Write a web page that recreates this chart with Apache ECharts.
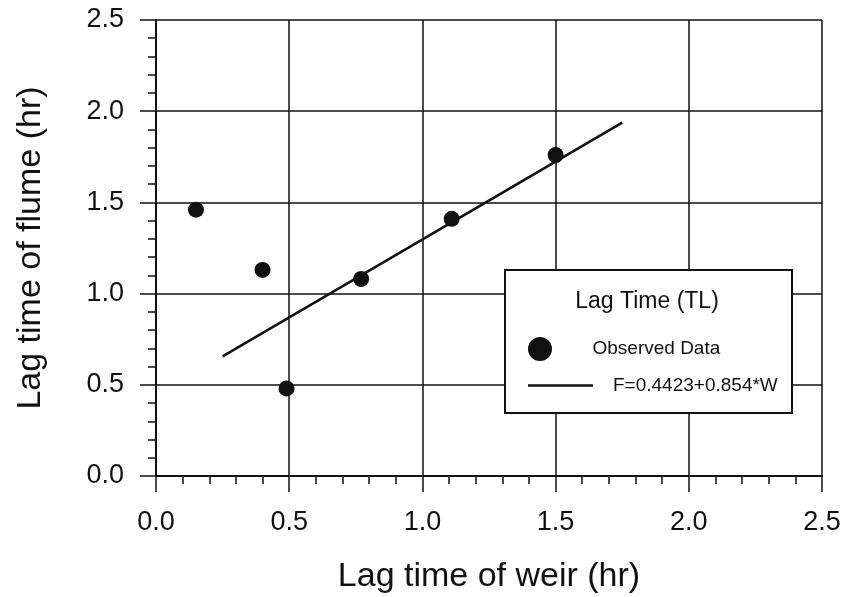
<!DOCTYPE html>
<html>
<head>
<meta charset="utf-8">
<script src="https://cdn.jsdelivr.net/npm/echarts@6/dist/echarts.min.js"></script>
<style>html,body{margin:0;padding:0;background:#fff;}#c{width:846px;height:597px;}</style>
</head>
<body>
<div id="c"></div>
<script>
// Observed data (lag time of weir, lag time of flume), hr
const weirLag = [0.15, 0.40, 0.49, 0.77, 1.11, 1.50];
const flumeLag = [1.46, 1.13, 0.48, 1.08, 1.41, 1.76];
// Fitted line endpoints F = 0.4423 + 0.854*W
const fitWeir = [0.25, 1.75];
const fitFlume = [0.656, 1.937];
const xTicks = [0.0, 0.5, 1.0, 1.5, 2.0, 2.5];
const yTicks = [0.0, 0.5, 1.0, 1.5, 2.0, 2.5];
const legendTitle = 'Lag Time (TL)';
const seriesNames = ['Observed Data', 'F=0.4423+0.854*W'];

const font = 'Liberation Sans, Arial, sans-serif';
const ink = '#111';

const chart = echarts.init(document.getElementById('c'));
const axisCommon = {
  type: 'value', min: xTicks[0], max: xTicks[xTicks.length - 1], interval: 0.5,
  axisLine: {show: true, lineStyle: {color: ink, width: 2}},
  axisTick: {show: true, inside: false, length: 16, lineStyle: {color: ink, width: 1.5}},
  minorTick: {show: true, splitNumber: 5, length: 8, lineStyle: {color: ink, width: 1.5}},
  splitLine: {show: true, lineStyle: {color: ink, width: 1.5}},
  axisLabel: {color: ink, fontFamily: font, fontSize: 27, formatter: v => v.toFixed(1)},
  nameLocation: 'middle',
  nameTextStyle: {color: ink, fontFamily: font, fontSize: 34}
};
const legendText = {color: ink, fontFamily: font, fontSize: 19, rich: {p: {width: 15}}};
chart.setOption({
  animation: false,
  backgroundColor: '#fff',
  grid: {left: 156, right: 24, top: 20, bottom: 121, containLabel: false, outerBoundsMode: 'none'},
  xAxis: Object.assign({}, axisCommon, {
    name: 'Lag time of weir (hr)', nameGap: 84,
    axisLabel: Object.assign({}, axisCommon.axisLabel, {margin: 33})
  }),
  yAxis: Object.assign({}, axisCommon, {
    min: yTicks[0], max: yTicks[yTicks.length - 1],
    name: 'Lag time of flume (hr)', nameGap: 108,
    axisLabel: Object.assign({}, axisCommon.axisLabel, {margin: 32})
  }),
  legend: [
    {data: [{name: seriesNames[0], icon: 'circle'}], left: 523, top: 332, itemWidth: 65, itemHeight: 24, z: 10,
     formatter: n => '{p|}' + n, textStyle: legendText},
    {data: [{name: seriesNames[1], icon: 'rect'}], left: 523, top: 371, itemWidth: 65, itemHeight: 2.5, z: 10,
     formatter: n => '{p|}' + n, textStyle: legendText}
  ],
  graphic: [
    {type: 'rect', z: 8, shape: {x: 505, y: 270, width: 287, height: 143},
     style: {fill: '#fff', stroke: ink, lineWidth: 2}},
    {type: 'text', z: 9, x: 647, y: 302,
     style: {text: legendTitle, fill: ink, font: '23px ' + font, textAlign: 'center', textVerticalAlign: 'middle'}}
  ],
  series: [
    {name: seriesNames[0], type: 'scatter', symbol: 'circle', symbolSize: 16,
     itemStyle: {color: ink, opacity: 1}, z: 4,
     data: weirLag.map((x, i) => [x, flumeLag[i]])},
    {name: seriesNames[1], type: 'line', symbol: 'none', showSymbol: false,
     lineStyle: {color: ink, width: 2.5}, itemStyle: {color: ink}, z: 3,
     data: fitWeir.map((x, i) => [x, fitFlume[i]])}
  ]
});
</script>
</body>
</html>
